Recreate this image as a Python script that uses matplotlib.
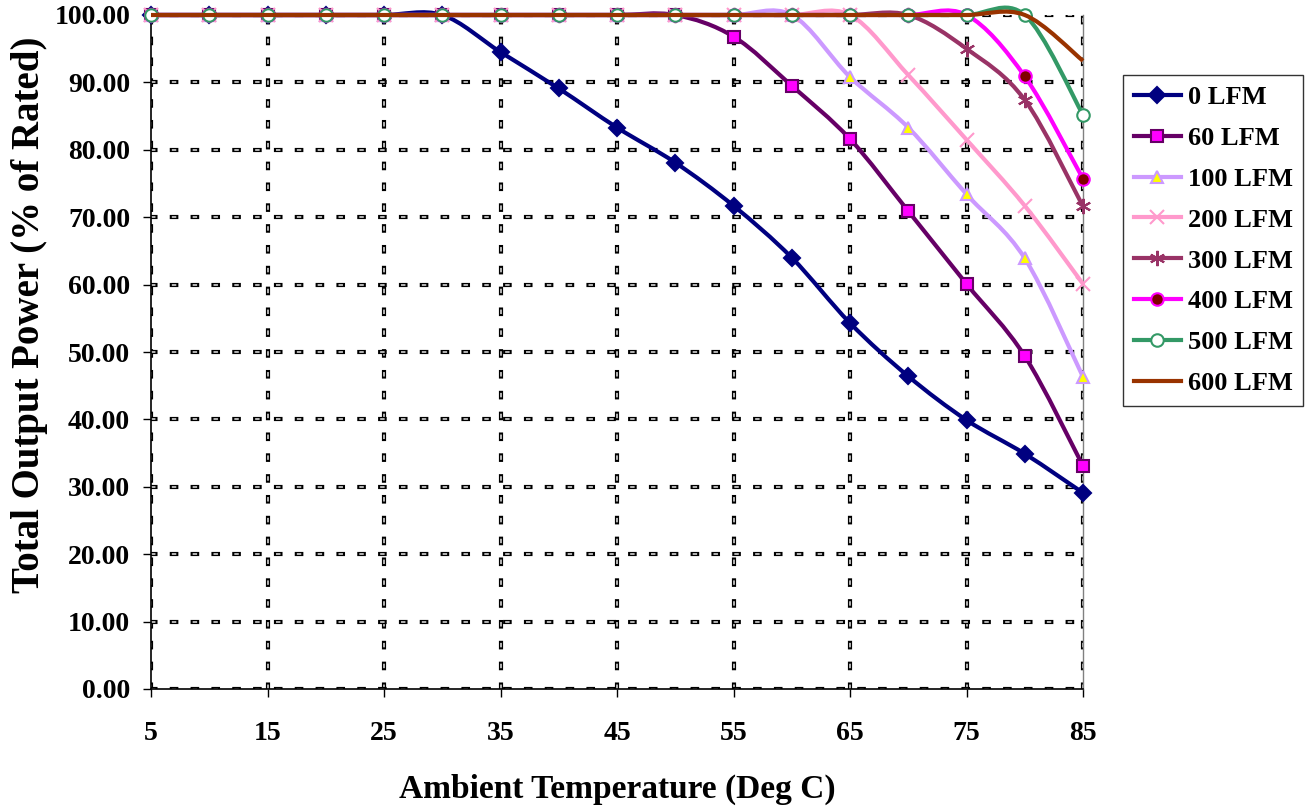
import matplotlib
matplotlib.use('Agg')

import numpy as np
import matplotlib.pyplot as plt
import matplotlib.patheffects as pe
from matplotlib.path import Path
from matplotlib.patches import PathPatch
from matplotlib.lines import Line2D

plt.rcParams['font.family'] = ['Liberation Serif', 'DejaVu Serif']
plt.rcParams['font.weight'] = 'bold'
plt.rcParams['axes.labelweight'] = 'bold'
plt.rcParams['lines.scale_dashes'] = False

# Ambient temperature (deg C)
temps = [5, 10, 15, 20, 25, 30, 35, 40, 45, 50, 55, 60, 65, 70, 75, 80, 85]

# Total output power (% of rated) for each airflow
lfm_0 = [100.0, 100.0, 100.0, 100.0, 100.0, 100.0, 94.5, 89.1, 83.3, 78.1,
         71.7, 64.0, 54.3, 46.4, 39.9, 34.9, 29.1]
lfm_60 = [100.0, 100.0, 100.0, 100.0, 100.0, 100.0, 100.0, 100.0, 100.0, 100.0,
          96.8, 89.5, 81.6, 70.9, 60.1, 49.4, 33.1]
lfm_100 = [100.0, 100.0, 100.0, 100.0, 100.0, 100.0, 100.0, 100.0, 100.0, 100.0,
           100.0, 100.0, 90.8, 83.3, 73.4, 63.9, 46.3]
lfm_200 = [100.0, 100.0, 100.0, 100.0, 100.0, 100.0, 100.0, 100.0, 100.0, 100.0,
           100.0, 100.0, 100.0, 91.1, 81.5, 71.7, 60.1]
lfm_300 = [100.0, 100.0, 100.0, 100.0, 100.0, 100.0, 100.0, 100.0, 100.0, 100.0,
           100.0, 100.0, 100.0, 100.0, 95.0, 87.4, 71.6]
lfm_400 = [100.0, 100.0, 100.0, 100.0, 100.0, 100.0, 100.0, 100.0, 100.0, 100.0,
           100.0, 100.0, 100.0, 100.0, 100.0, 90.9, 75.7]
lfm_500 = [100.0, 100.0, 100.0, 100.0, 100.0, 100.0, 100.0, 100.0, 100.0, 100.0,
           100.0, 100.0, 100.0, 100.0, 100.0, 100.0, 85.2]
lfm_600 = [100.0, 100.0, 100.0, 100.0, 100.0, 100.0, 100.0, 100.0, 100.0, 100.0,
           100.0, 100.0, 100.0, 100.0, 100.0, 100.0, 93.2]

labels = ['0 LFM', '60 LFM', '100 LFM', '200 LFM', '300 LFM', '400 LFM', '500 LFM', '600 LFM']
series = [lfm_0, lfm_60, lfm_100, lfm_200, lfm_300, lfm_400, lfm_500, lfm_600]

# line colour, marker, marker size, face, edge
styles = [
    ('#000080', 'D', 8, '#000080', '#000080'),
    ('#660066', 's', 9, '#FF00FF', '#660066'),
    ('#CC99FF', '^', 8.5, '#FFFF00', '#CC99FF'),
    ('#FF99CC', 'x', 10, '#FF99CC', '#FF99CC'),
    ('#993366', (6, 2, 0), 11, '#993366', '#993366'),
    ('#FF00FF', 'o', 9, '#800000', '#FF00FF'),
    ('#339966', 'o', 9, 'white', '#339966'),
    ('#993300', 'None', 0, 'none', 'none'),
]


def smooth_path(xs, ys):
    # Excel-like smoothed line: Catmull-Rom turned into cubic Bezier segments
    pts = np.column_stack([xs, ys]).astype(float)
    n = len(pts)
    verts = [pts[0]]
    codes = [Path.MOVETO]
    for i in range(n - 1):
        p0 = pts[max(i - 1, 0)]
        p1 = pts[i]
        p2 = pts[i + 1]
        p3 = pts[min(i + 2, n - 1)]
        verts += [p1 + (p2 - p0) / 6, p2 - (p3 - p1) / 6, p2]
        codes += [Path.CURVE4] * 3
    return Path(verts, codes)


fig = plt.figure(figsize=(13.07, 8.08), dpi=100)
ax = fig.add_axes([151 / 1307, 1 - 689 / 808, (1083 - 151) / 1307, (689 - 15) / 808])

ax.set_xlim(5, 85)
ax.set_ylim(0, 100)
ax.set_xticks([5, 15, 25, 35, 45, 55, 65, 75, 85])
ax.set_yticks(np.arange(0, 101, 10))
ax.set_yticklabels([f'{v:.2f}' for v in np.arange(0, 101, 10)])

# dashed grid: grey dashes with a black outline
grid_fx = [pe.Stroke(linewidth=3.0, foreground='black', capstyle='projecting'), pe.Normal()]
ax.grid(True, color='#b4b4b4', linewidth=1.4, linestyle=(0, (3.2, 11.8)),
        path_effects=grid_fx, zorder=0)
ax.set_axisbelow(True)

ax.spines['top'].set_visible(False)
ax.spines['right'].set_color('#808080')
ax.spines['right'].set_linewidth(1.0)
ax.spines['left'].set_linewidth(1.2)
ax.spines['bottom'].set_linewidth(1.2)

ax.tick_params(axis='x', length=6, width=1, pad=17, labelsize=20)
ax.tick_params(axis='y', length=6, width=1, pad=9, labelsize=20)

handles = []
for i, (vals, lab, (col, mk, ms, mfc, mec)) in enumerate(zip(series, labels, styles)):
    patch = PathPatch(smooth_path(temps, vals), facecolor='none', edgecolor=col,
                      lw=3.0, capstyle='butt', joinstyle='round', clip_on=False,
                      zorder=3 + i)
    ax.add_patch(patch)
    if mk != 'None':
        ax.plot(temps, vals, linestyle='none', marker=mk, markersize=ms,
                markerfacecolor=mfc, markeredgecolor=mec, markeredgewidth=1.5,
                clip_on=False, zorder=3 + i)
    handles.append(Line2D([], [], color=col, lw=3.0, marker=mk, markersize=ms,
                          markerfacecolor=mfc, markeredgecolor=mec, markeredgewidth=1.5))

ax.set_xlabel('Ambient Temperature (Deg C)', fontsize=24, labelpad=20)
ax.set_ylabel('Total Output Power (% of Rated)', fontsize=28)
ax.yaxis.set_label_coords(-0.111, 0.556)

leg = fig.legend(handles, labels, loc='upper left',
                 bbox_to_anchor=(1123 / 1307, 1 - 75 / 808),
                 fontsize=19, frameon=True, fancybox=False, edgecolor='black',
                 handlelength=1.8, handletextpad=0.25, labelspacing=0.66,
                 borderpad=0.4, borderaxespad=0)
leg.get_frame().set_linewidth(1.0)

fig.savefig('out.png', dpi=100)
